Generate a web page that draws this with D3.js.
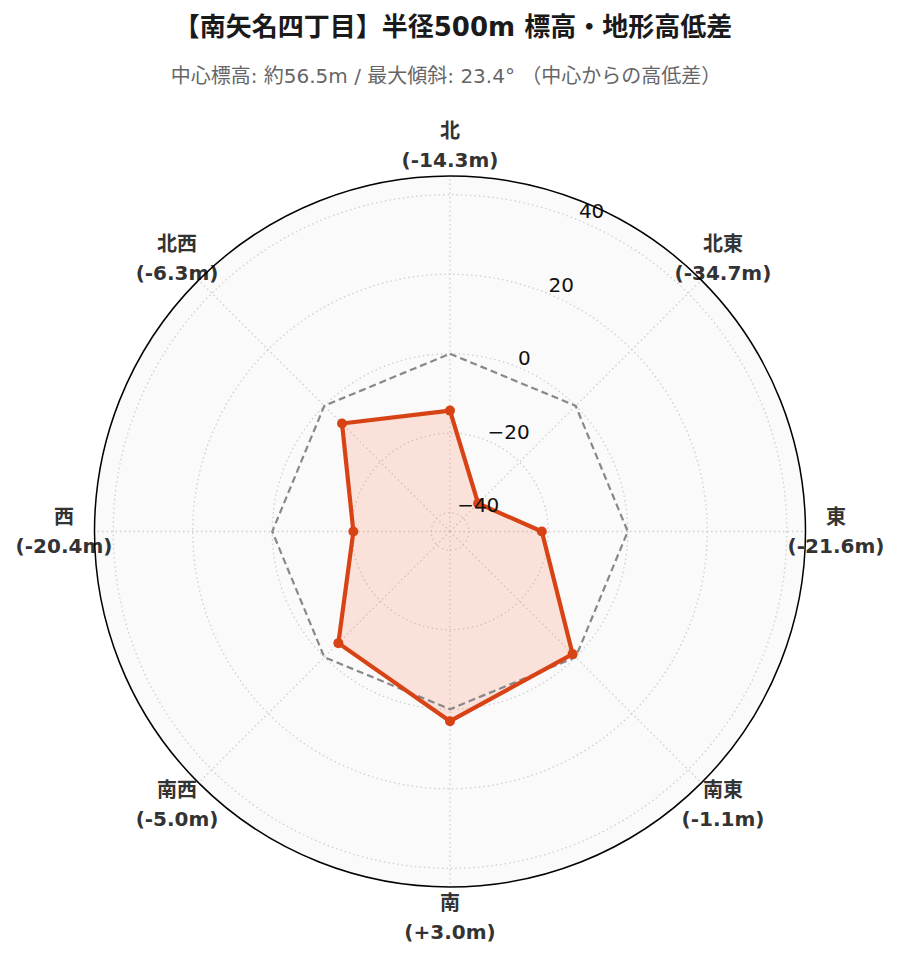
<!DOCTYPE html>
<html>
<head>
<meta charset="utf-8">
<script src="https://cdn.jsdelivr.net/npm/d3@7"></script>
<style>
  html, body { margin: 0; padding: 0; background: #ffffff; }
  svg { display: block; }
</style>
</head>
<body>
<svg id="chart" width="899" height="962"></svg>
<script>
// ---- data ----
const directions = ["北", "北東", "東", "南東", "南", "南西", "西", "北西"];
const diffs = [-14.3, -34.7, -21.6, -1.1, 3.0, -5.0, -20.4, -6.3];
const radialTicks = [-40, -20, 0, 20, 40];
const radialLimit = 44.7;
const titleText = "【南矢名四丁目】半径500m 標高・地形高低差";
const subtitleText = "中心標高: 約56.5m / 最大傾斜: 23.4° （中心からの高低差）";

// ---- layout ----
const W = 899, H = 962;
const cx = 450, cy = 531.5, R = 355.5;
const FONT = "'DejaVu Sans', 'Noto Sans CJK JP', sans-serif";
const svg = d3.select("#chart");

const r = d3.scaleLinear().domain([-radialLimit, radialLimit]).range([0, R]);
const ang = d3.scaleLinear().domain([0, directions.length]).range([0, 2 * Math.PI]);

const g = svg.append("g").attr("transform", `translate(${cx},${cy})`);

// background
g.append("circle").attr("r", R).attr("fill", "#fafafa");

// grid circles
g.selectAll("circle.grid").data(radialTicks).join("circle")
  .attr("class", "grid")
  .attr("r", d => r(d))
  .attr("fill", "none")
  .attr("stroke", "#cfcfcf")
  .attr("stroke-width", 1.3)
  .attr("stroke-dasharray", "1.5,3");

// spokes
g.selectAll("line.spoke").data(directions).join("line")
  .attr("class", "spoke")
  .attr("x1", 0).attr("y1", 0)
  .attr("x2", (d, i) => R * Math.sin(ang(i)))
  .attr("y2", (d, i) => -R * Math.cos(ang(i)))
  .attr("stroke", "#cfcfcf")
  .attr("stroke-width", 1.3)
  .attr("stroke-dasharray", "1.5,3");

const radial = d3.lineRadial()
  .angle((d, i) => ang(i))
  .radius(d => r(d))
  .curve(d3.curveLinearClosed);

// fill
g.append("path")
  .datum(diffs)
  .attr("d", radial)
  .attr("fill", "#ff5722")
  .attr("fill-opacity", 0.15)
  .attr("stroke", "none");

// zero reference
g.append("path")
  .datum(directions.map(() => 0))
  .attr("d", radial)
  .attr("fill", "none")
  .attr("stroke", "#888888")
  .attr("stroke-width", 2.2)
  .attr("stroke-dasharray", "7,4");

// data line
g.append("path")
  .datum(diffs)
  .attr("d", radial)
  .attr("fill", "none")
  .attr("stroke", "#d84315")
  .attr("stroke-width", 4.2)
  .attr("stroke-linejoin", "round");

g.selectAll("circle.pt").data(diffs).join("circle")
  .attr("class", "pt")
  .attr("cx", (d, i) => r(d) * Math.sin(ang(i)))
  .attr("cy", (d, i) => -r(d) * Math.cos(ang(i)))
  .attr("r", 5)
  .attr("fill", "#d84315");

// radial tick labels
const tickAngle = Math.PI / 8;
const fmtTick = d3.format("d");
g.selectAll("text.rt").data(radialTicks).join("text")
  .attr("class", "rt")
  .attr("x", d => r(d) * Math.sin(tickAngle))
  .attr("y", d => -r(d) * Math.cos(tickAngle) - 2)
  .attr("text-anchor", "start")
  .attr("font-family", FONT)
  .attr("font-size", 20)
  .attr("fill", "#111")
  .text(d => fmtTick(d));

// category labels
const fmtVal = v => "(" + (v >= 0 ? "+" : "-") + Math.abs(v).toFixed(1) + "m)";
const labR = 386;
const lab = g.selectAll("g.lab").data(directions).join("g")
  .attr("class", "lab")
  .attr("transform", (d, i) => `translate(${labR * Math.sin(ang(i))},${-labR * Math.cos(ang(i))})`);
lab.append("text")
  .attr("y", -14.5)
  .attr("text-anchor", "middle")
  .attr("dominant-baseline", "central")
  .attr("font-family", FONT)
  .attr("font-weight", "bold")
  .attr("font-size", 20)
  .attr("fill", "#333")
  .text(d => d);
lab.append("text")
  .attr("y", 14.5)
  .attr("text-anchor", "middle")
  .attr("dominant-baseline", "central")
  .attr("font-family", FONT)
  .attr("font-weight", "bold")
  .attr("font-size", 20)
  .attr("fill", "#333")
  .text((d, i) => fmtVal(diffs[i]));

// outer spine
g.append("circle").attr("r", R).attr("fill", "none").attr("stroke", "#000").attr("stroke-width", 1.5);

// titles
svg.append("text")
  .attr("x", 453).attr("y", 27)
  .attr("text-anchor", "middle")
  .attr("dominant-baseline", "central")
  .attr("font-family", FONT)
  .attr("font-weight", "bold")
  .attr("font-size", 26)
  .attr("fill", "#1a1a1a")
  .text(titleText);
svg.append("text")
  .attr("x", 446).attr("y", 76)
  .attr("text-anchor", "middle")
  .attr("dominant-baseline", "central")
  .attr("font-family", FONT)
  .attr("font-size", 20)
  .attr("fill", "#666")
  .text(subtitleText);
</script>
</body>
</html>
